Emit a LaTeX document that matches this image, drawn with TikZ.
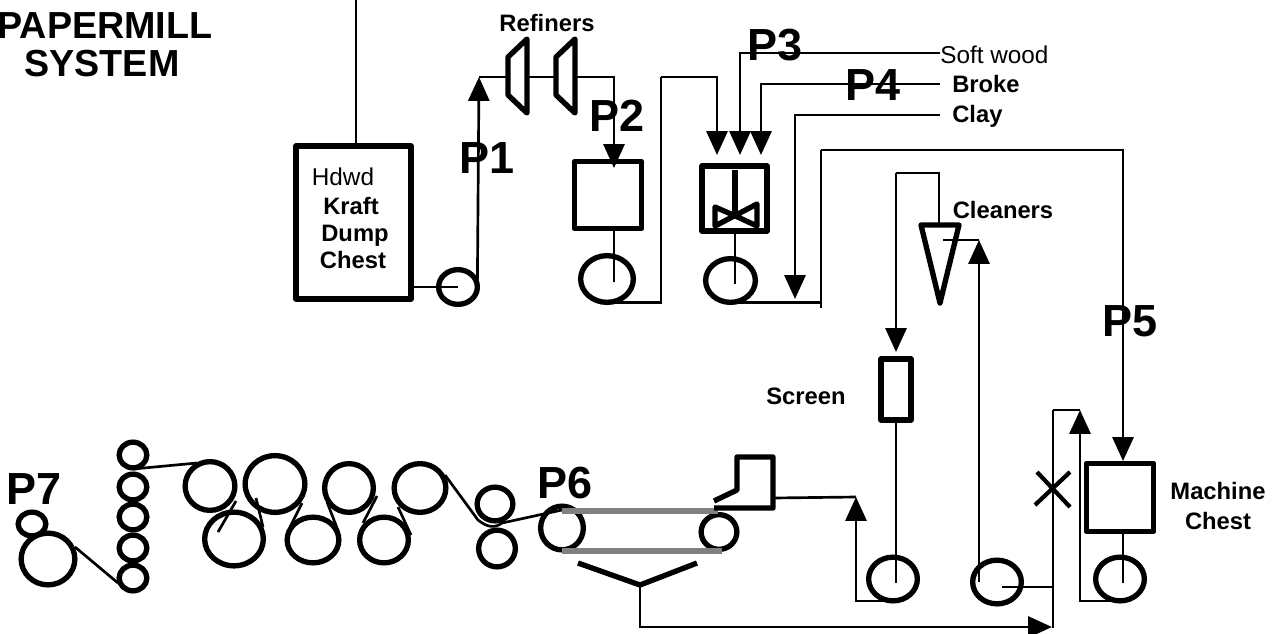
\documentclass[tikz,border=0pt]{standalone}
\usepackage{fontspec}
\setmainfont{Liberation Sans}
\usepackage{xcolor}
\usetikzlibrary{arrows.meta, shapes.geometric}
\definecolor{beltGray}{RGB}{128, 128, 128}

\begin{document}
\begin{tikzpicture}[x=0.025cm, y=-0.025cm,
    flow/.style={line width=1.9pt},
    arrowed/.style={flow, -{Triangle[length=17pt, width=15pt]}},
    vessel/.style={line width=3.8pt, line join=round},
    tank/.style={draw, vessel, inner sep=0pt, outer sep=0pt},
    roller/.style={draw, ellipse, line width=3.8pt, inner sep=0pt, outer sep=0pt},
    belt/.style={beltGray, line width=3.6pt},
    tag/.style={inner sep=0pt, anchor=base, font=\bfseries\fontsize{32}{32}\selectfont},
    caption/.style={inner sep=0pt, anchor=base, font=\bfseries\fontsize{16.9}{20}\selectfont},
    thintext/.style={inner sep=0pt, anchor=base, font=\fontsize{17.3}{20}\selectfont},
    heading/.style={inner sep=0pt, anchor=base, font=\bfseries\fontsize{26.8}{30}\selectfont}]
  \useasboundingbox (0,0) rectangle (1276,633);

  % tanks
  \node[tank, minimum width=2.875cm, minimum height=3.825cm] (kraft) at (353.5,222.5) {};
  \node[tank, minimum width=1.675cm, minimum height=1.675cm] (refined) at (608,195) {};
  \node[tank, minimum width=1.625cm, minimum height=1.625cm] (mixer) at (734.5,198.5) {};
  \node[tank, minimum width=0.75cm, minimum height=1.525cm] (screen) at (896,389.5) {};
  \node[tank, minimum width=1.675cm, minimum height=1.7cm] (machine) at (1120,497.5) {};

  % pumps and rolls: name, centre, outer size
  \foreach \rname/\x/\y/\w/\h in {pumpK/458/287/44/40, pumpR/607/279/58/52, pumpM/730.5/280.5/55/49,
      pumpS/893/579/54/49, pumpC/997/582/54/49, pumpT/1120/579/54/49,
      reelS/32/524/33/29, reelL/48/559/59/57,
      stackA/133/455/33/31, stackB/133/487/33/31, stackC/133/517/33/31, stackD/133/548/33/31, stackE/133/578/33/31,
      dryA/210/486/55/54, dryB/275/484/65/62, dryC/349/488/54/54, dryD/420/488/57/54,
      dryE/234/539/64/59, dryF/313/540/57/51, dryG/384/540/54/51,
      pressA/495/504/41/39, pressB/497/548.5/42/42, couch/562/528/48/49, front/719/532/41/40}
    \node[roller, minimum width=(\w-5.3)*0.025cm, minimum height=(\h-5.3)*0.025cm] (\rname) at (\x,\y) {};

  % points where the lines turn
  \coordinate (kraftFeed) at (356,0);
  \coordinate (topK) at (479,77);
  \coordinate (inR) at (614,168);
  \coordinate (riseR) at (661,77);
  \coordinate (inA) at (717,155);
  \coordinate (inB) at (740,155);
  \coordinate (inC) at (761,155);
  \coordinate (softEnd) at (940,53);
  \coordinate (brokeEnd) at (940,84);
  \coordinate (clayEnd) at (940,115);
  \coordinate (clayIn) at (795,299);
  \coordinate (tickM) at (821,308);
  \coordinate (riseM) at (821,150);
  \coordinate (inT) at (1123,461);
  \coordinate (coneTop) at (939,225);
  \coordinate (loopR) at (939,173);
  \coordinate (loopL) at (896,173);
  \coordinate (inS) at (896,352);
  \coordinate (headOut) at (773,498);
  \coordinate (upS) at (856,497);
  \coordinate (coneIn) at (943,240);
  \coordinate (upC) at (979,240);
  \coordinate (pumpCout) at (1002,587);
  \coordinate (byTop) at (1053,410);
  \coordinate (byBot) at (1053,628);
  \coordinate (upT) at (1080,410);
  \coordinate (troughMid) at (640,585);
  \coordinate (inBy) at (1052,627);

  % stock lines, upper part
  \draw[flow] (kraftFeed) -- (kraftFeed |- kraft.north);
  \draw[flow] (kraft.east |- pumpK) -- (pumpK.center);
  \draw[arrowed] (pumpK.east) -- (topK);
  \draw[arrowed] (topK) -| (inR);
  \draw[flow] (inR |- refined.south) -- ++(0,53);
  \draw[flow] (pumpR.south) -| (riseR);
  \draw[arrowed] (riseR) -| (inA);
  \draw[arrowed] (softEnd) -| (inB);
  \draw[arrowed] (brokeEnd) -| (inC);
  \draw[arrowed] (clayEnd) -| (clayIn);
  \draw[flow] (735,233) -- (735,284);
  \draw[flow] (pumpM.south) -- (pumpM.south -| tickM);
  \draw[flow] (tickM) -- (riseM);
  \draw[arrowed] (riseM) -| (inT);

  % stock lines, lower part
  \draw[flow] (coneTop) -- (loopR) -- (loopL);
  \draw[arrowed] (loopL) -- (inS);
  \draw[flow] (inS |- screen.south) -- ++(0,163);
  \draw[arrowed] (pumpS.south) -| (upS);
  \draw[flow] (headOut) -- (upS);
  \draw[arrowed] (upC |- pumpC) -- (upC);
  \draw[flow] (upC) -- (coneIn);
  \draw[flow] (pumpCout) -- (pumpCout -| byTop);
  \draw[flow] (byBot) -- (byTop);
  \draw[arrowed] (pumpT.south) -| (upT);
  \draw[flow] (upT) -- (byTop);
  \draw[flow] (inT |- machine.south) -- ++(0,51);
  \draw[arrowed] (troughMid) |- (inBy);

  % refiners
  \foreach \x in {508,556}
    \draw[vessel, fill=white] (\x,57) -- (\x+19,39) -- (\x+19,113) -- (\x,95) -- cycle;

  % agitator
  \draw[vessel] (735,170) -- (735,216);
  \draw[vessel] (735.5,216) -- (715,207) -- (715,226) -- (757,204) -- (757,226) -- cycle;

  % cleaner cone and valve
  \draw[vessel] (921,225) -- (959,225) -- (940,303) -- cycle;
  \draw[line width=3pt] (1035,505) -- (1070,472);
  \draw[line width=3pt] (1037,472) -- (1070,507);

  % felts between the rolls
  \draw[flow] (75,547) -- (118,583);
  \draw[flow] (133,469) -- (197,463);
  \foreach \xa/\ya/\xb/\yb in {236/501/218/532, 256/498/263/527, 302/503/290/527,
      327/502/339/533, 377/496/363/523, 398/507/411/535}
    \draw[flow] (\xa,\ya) -- (\xb,\yb);
  \draw[flow] (445,475) -- (478,520) .. controls (488,528) and (495,528) .. (502,523) -- (562,510);

  % wire, headbox and trough
  \draw[belt] (562,511) -- (718,511);
  \draw[belt] (562,551) -- (722,551);
  \draw[vessel] (714,501) -- (737,490) -- (737,457) -- (773,457) -- (773,508) -- (714,508);
  \draw[vessel] (578,563) -- (640,585) -- (697,563);

  % labels
  \foreach \tname/\x/\y/\txt in {tagA/487/173/P1, tagB/617/131/P2, tagC/775/60/P3, tagD/873/100/P4,
      tagE/1130/336/P5, tagF/565/498/P6, tagG/34/504/P7}
    \node[tag] (\tname) at (\x,\y) {\txt};
  \foreach \tname/\x/\y/\txt in {refiners/547/31/Refiners, kraftA/351/214/Kraft, kraftB/355/241/Dump,
      kraftC/353/268/Chest, cleaners/1003/218/Cleaners, screenT/806/404/Screen,
      machineA/1218/499/Machine, machineB/1218/529/Chest}
    \node[caption] (\tname) at (\x,\y) {\txt};
  \node[thintext] (hdwd) at (343,185) {Hdwd};
  \node[thintext, anchor=base west] (softwood) at (940,63) {Soft wood};
  \node[caption, anchor=base west] (broke) at (952,92) {Broke};
  \node[caption, anchor=base west] (clay) at (952,122) {Clay};
  \node[heading] (papermill) at (105,38) {PAPERMILL};
  \node[heading] (systemT) at (102,76) {SYSTEM};
\end{tikzpicture}
\end{document}
